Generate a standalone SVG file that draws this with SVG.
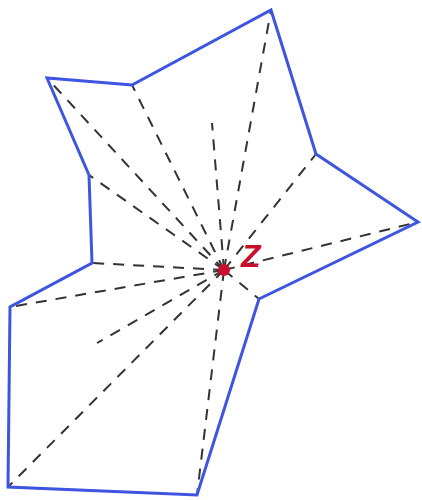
<svg xmlns="http://www.w3.org/2000/svg" width="422" height="500" viewBox="0 0 422 500">
<style>
.poly{fill:none;stroke:#3d55e0;stroke-width:3;stroke-linejoin:miter}
.ray{stroke:#333;stroke-width:2;stroke-dasharray:11,9}
.lbl{font-family:"Liberation Sans",Arial,sans-serif;font-style:italic;font-weight:bold;font-size:32px;fill:#c8102e}
</style>
<rect width="422" height="500" fill="#fff"/>
<g id="connectors">
<line class="ray" x1="224" y1="270" x2="271" y2="10"/>
<line class="ray" x1="224" y1="270" x2="316" y2="154"/>
<line class="ray" x1="224" y1="270" x2="418" y2="222"/>
<line class="ray" x1="224" y1="270" x2="259" y2="299"/>
<line class="ray" x1="224" y1="270" x2="197" y2="495"/>
<line class="ray" x1="224" y1="270" x2="8" y2="487"/>
<line class="ray" x1="224" y1="270" x2="10" y2="307"/>
<line class="ray" x1="224" y1="270" x2="92" y2="263"/>
<line class="ray" x1="224" y1="270" x2="89" y2="175"/>
<line class="ray" x1="224" y1="270" x2="47" y2="78"/>
<line class="ray" x1="224" y1="270" x2="132" y2="85"/>
<line class="ray" x1="224" y1="270" x2="212" y2="123"/>
<line class="ray" x1="224" y1="270" x2="97" y2="343"/>
</g>
<g id="polygon">
<polygon class="poly" points="271,10 316,154 418,222 259,299 197,495 8,487 10,307 92,263 89,175 47,78 132,85"/>
</g>
<g id="Z">
<circle cx="224" cy="270" r="6" fill="#c8102e"/>
<text class="lbl" x="241" y="267">Z</text>
</g>
</svg>
